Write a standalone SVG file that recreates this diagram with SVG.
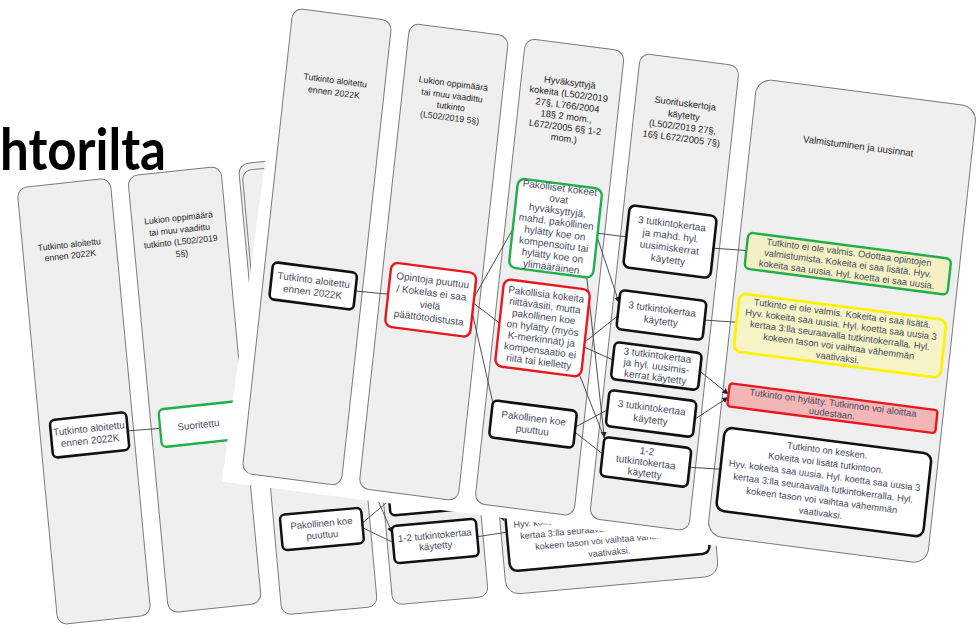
<svg xmlns="http://www.w3.org/2000/svg" width="978" height="637" viewBox="0 0 978 637">
<style>
.col{fill:#efefef;stroke:#7a7a7a;stroke-width:1}
.pan{fill:#ffffff}
.bk{fill:#ffffff;stroke:#111111;stroke-width:2.6}
.gr{fill:#ffffff;stroke:#1fae4b;stroke-width:2.4}
.rd{fill:#ffffff;stroke:#e8161d;stroke-width:2.4}
.gy{fill:#f4f0c4;stroke:#1fae4b;stroke-width:2.4}
.yl{fill:#f6f3c6;stroke:#fff200;stroke-width:2.8}
.pk{fill:#f2b6b6;stroke:#e8161d;stroke-width:2.4}
.cn{fill:none;stroke:#444444;stroke-width:0.9}
.hd{font-family:"Liberation Sans",Arial,sans-serif;fill:#1e1e1e;text-anchor:middle}
.nt{font-family:"Liberation Sans",Arial,sans-serif;font-size:10px;fill:#474b60;text-anchor:middle}
.st{font-family:"Liberation Sans",Arial,sans-serif;font-size:9.4px;fill:#474b60;text-anchor:middle}
.title{font-family:Lato,"DejaVu Sans",sans-serif;font-weight:700;font-size:58px;fill:#000000}
</style>
<defs>
<marker id="ah" markerUnits="userSpaceOnUse" markerWidth="7" markerHeight="7" refX="6" refY="3" orient="auto">
<path d="M0,0 L6,3 L0,6 Z" fill="#222222"/>
</marker>
</defs>
<rect width="978" height="637" fill="#ffffff"/>
<text class="title" x="0" y="170" textLength="166" lengthAdjust="spacingAndGlyphs">htorilta</text>

<!-- back slide -->
<g id="slide-back" transform="matrix(0.979,-0.105,0.093,0.993,17,188)">
  <rect class="col" x="0" y="0" width="95" height="440" rx="10"/>
  <rect class="col" x="113" y="0" width="95" height="440" rx="10"/>
  <rect class="col" x="226" y="0" width="95" height="440" rx="10"/>
  <g class="hd" font-size="8.8">
    <text x="47.5" y="65">Tutkinto aloitettu</text>
    <text x="47.5" y="76">ennen 2022K</text>
    <text x="160.5" y="50">Lukion oppimäärä</text>
    <text x="160.5" y="62">tai muu vaadittu</text>
    <text x="160.5" y="74">tutkinto (L502/2019</text>
    <text x="160.5" y="86">5§)</text>
    <text x="230" y="50" style="text-anchor:start">Hyväksyttyjä</text>
  </g>
  <g id="back-connectors">
    <path class="cn" d="M89,254 L122,255"/>
  </g>
  <g id="back-n1">
    <rect class="bk" x="11" y="235" width="78" height="38" rx="5"/>
    <text class="nt" font-size="9.5" x="50" y="251">Tutkinto aloitettu</text>
    <text class="nt" font-size="9.5" x="50" y="263">ennen 2022K</text>
  </g>
  <g id="back-n2">
    <rect class="gr" x="122" y="236" width="94" height="38" rx="5"/>
    <text class="nt" x="161" y="259">Suoritettu</text>
  </g>
</g>

<!-- middle slide -->
<g id="slide-middle" transform="matrix(0.956,-0.086,0.086,0.956,17.3,190.7)">
  <path class="pan" d="M228,240 L696,240 L696,480 L228,480 Z"/>
  <rect class="col" x="235" y="0" width="100" height="465" rx="10"/>
  <rect class="col" x="351" y="0" width="100" height="465" rx="10"/>
  <rect class="col" x="470" y="10" width="222" height="455" rx="14"/>
  <g id="mid-connectors">
    <path class="cn" d="M327,377 L357,356"/>
    <path class="cn" d="M327,382 L357,400"/>
    <path class="cn" d="M327,300 L357,390" marker-end="url(#ah)"/>
    <path class="cn" d="M445,402 L476,400"/>
    <path class="cn" d="M448,318 L474,388" marker-end="url(#ah)"/>
  </g>
  <g id="mid-E">
    <rect class="bk" x="242" y="361" width="85" height="37" rx="5"/>
    <text class="nt" x="284.5" y="377">Pakollinen koe</text>
    <text class="nt" x="284.5" y="389">puuttuu</text>
  </g>
  <g id="mid-I">
    <rect class="bk" x="357" y="336" width="88" height="36" rx="5"/>
  </g>
  <g id="mid-J">
    <rect class="bk" x="357" y="383" width="88" height="39" rx="5"/>
    <text class="nt" x="401" y="400">1-2 tutkintokertaa</text>
    <text class="nt" x="401" y="411">käytetty</text>
  </g>
  <g id="mid-N">
    <rect class="bk" x="476" y="358" width="209" height="83" rx="8"/>
    <text class="st" x="580.5" y="371">Tutkinto on kesken.</text>
    <text class="st" x="580.5" y="383.5">Kokeita  voi lisätä tutkintoon.</text>
    <text class="st" x="580.5" y="396">Hyv. kokeita saa uusia. Hyl. koetta saa uusia 3</text>
    <text class="st" x="580.5" y="408.5">kertaa 3:lla seuraavalla tutkintokerralla.  Hyl.</text>
    <text class="st" x="580.5" y="421">kokeen tason voi vaihtaa vähemmän</text>
    <text class="st" x="580.5" y="433.5">vaativaksi.</text>
  </g>
</g>

<!-- front slide -->
<g id="slide-front" transform="matrix(0.990,0.1286,-0.1097,1.0,293,8)">
  <path class="pan" d="M-6,-40 L760,-40 L760,476 L-19,476 Z"/>
  <rect class="col" x="0" y="0" width="100" height="465" rx="10"/>
  <rect class="col" x="118" y="0" width="100" height="465" rx="10"/>
  <rect class="col" x="235" y="0" width="100" height="465" rx="10"/>
  <rect class="col" x="351" y="0" width="100" height="465" rx="10"/>
  <rect class="col" x="470" y="10" width="222" height="457" rx="15"/>
  <g class="hd">
    <g font-size="8.8">
      <text x="50" y="69">Tutkinto aloitettu</text>
      <text x="50" y="81">ennen 2022K</text>
      <text x="168" y="57">Lukion oppimäärä</text>
      <text x="168" y="69">tai muu vaadittu</text>
      <text x="168" y="80">tutkinto</text>
      <text x="168" y="91">(L502/2019 5§)</text>
    </g>
    <g font-size="9.3">
      <text x="284" y="41">Hyväksyttyjä</text>
      <text x="284" y="52.5">kokeita (L502/2019</text>
      <text x="284" y="64">27§, L766/2004</text>
      <text x="284" y="75">18§ 2 mom.,</text>
      <text x="284" y="86">L672/2005 6§ 1-2</text>
      <text x="284" y="97">mom.)</text>
      <text x="401" y="47">Suorituskertoja</text>
      <text x="401" y="59">käytetty</text>
      <text x="401" y="70.5">(L502/2019 27§,</text>
      <text x="401" y="82">16§ L672/2005 7§)</text>
    </g>
    <text x="578" y="67" font-size="9.6">Valmistuminen ja uusinnat</text>
  </g>
  <g id="front-connectors">
    <path class="cn" d="M93,271 L126,270"/>
    <path class="cn" d="M212,262 L243,190"/>
    <path class="cn" d="M212,268 L240,284"/>
    <path class="cn" d="M212,278 L243,366"/>
    <path class="cn" d="M328,183 L357,183"/>
    <path class="cn" d="M328,187 L357,249" marker-end="url(#ah)"/>
    <path class="cn" d="M322,228 L357,384" marker-end="url(#ah)"/>
    <path class="cn" d="M326,326 L358,386"/>
    <path class="cn" d="M327,292 L357,262"/>
    <path class="cn" d="M327,297 L357,306"/>
    <path class="cn" d="M327,377 L357,356"/>
    <path class="cn" d="M327,382 L357,400"/>
    <path class="cn" d="M445,183 L478,181"/>
    <path class="cn" d="M444,255 L476,253"/>
    <path class="cn" d="M445,306 L476,325" marker-end="url(#ah)"/>
    <path class="cn" d="M445,354 L476,328" marker-end="url(#ah)"/>
    <path class="cn" d="M445,402 L476,400"/>
  </g>
  <g id="A">
    <rect class="bk" x="8" y="253" width="85" height="37" rx="5"/>
    <text class="nt" x="50.5" y="269">Tutkinto aloitettu</text>
    <text class="nt" x="50.5" y="281">ennen 2022K</text>
  </g>
  <g id="B">
    <rect class="rd" x="126" y="238" width="86" height="64" rx="7"/>
    <text class="nt" x="169" y="254">Opintoja puuttuu</text>
    <text class="nt" x="169" y="266.5">/ Kokelas ei saa</text>
    <text class="nt" x="169" y="279">vielä</text>
    <text class="nt" x="169" y="291.5">päättötodistusta</text>
  </g>
  <g id="C">
    <rect class="gr" x="243" y="139" width="85" height="89" rx="7"/>
    <text class="nt" x="285.5" y="146.5">Pakolliset kokeet</text>
    <text class="nt" x="285.5" y="157.8">ovat</text>
    <text class="nt" x="285.5" y="169.1">hyväksyttyjä,</text>
    <text class="nt" x="285.5" y="180.4">mahd. pakollinen</text>
    <text class="nt" x="285.5" y="191.7">hylätty koe on</text>
    <text class="nt" x="285.5" y="203">kompensoitu tai</text>
    <text class="nt" x="285.5" y="214.3">hylätty koe on</text>
    <text class="nt" x="285.5" y="225.6">ylimääräinen</text>
  </g>
  <g id="D">
    <rect class="rd" x="240" y="240" width="87" height="87" rx="7"/>
    <text class="nt" x="283.5" y="253.3">Pakollisia kokeita</text>
    <text class="nt" x="283.5" y="264.5">riittäväsiti, mutta</text>
    <text class="nt" x="283.5" y="275.7">pakollinen koe</text>
    <text class="nt" x="283.5" y="286.9">on hylätty (myös</text>
    <text class="nt" x="283.5" y="298.1">K-merkinnät) ja</text>
    <text class="nt" x="283.5" y="309.3">kompensaatio ei</text>
    <text class="nt" x="283.5" y="320.5">riitä tai kielletty</text>
  </g>
  <g id="E">
    <rect class="bk" x="242" y="361" width="85" height="37" rx="5"/>
    <text class="nt" x="284.5" y="377">Pakollinen koe</text>
    <text class="nt" x="284.5" y="389">puuttuu</text>
  </g>
  <g id="F">
    <rect class="bk" x="357" y="151" width="88" height="62" rx="6"/>
    <text class="nt" x="401" y="167.5">3 tutkintokertaa</text>
    <text class="nt" x="401" y="179.5">ja mahd. hyl.</text>
    <text class="nt" x="401" y="191.5">uusimiskerrat</text>
    <text class="nt" x="401" y="203.5">käytetty</text>
  </g>
  <g id="G">
    <rect class="bk" x="357" y="236" width="87" height="39" rx="5"/>
    <text class="nt" x="400.5" y="253">3 tutkintokertaa</text>
    <text class="nt" x="400.5" y="265">käytetty</text>
  </g>
  <g id="H">
    <rect class="bk" x="357" y="288" width="88" height="37" rx="5"/>
    <text class="nt" x="401" y="299">3 tutkintokertaa</text>
    <text class="nt" x="401" y="310">ja hyl. uusimis-</text>
    <text class="nt" x="401" y="321">kerrat käytetty</text>
  </g>
  <g id="I">
    <rect class="bk" x="357" y="336" width="88" height="36" rx="5"/>
    <text class="nt" x="401" y="351.5">3 tutkintokertaa</text>
    <text class="nt" x="401" y="363.5">käytetty</text>
  </g>
  <g id="J">
    <rect class="bk" x="357" y="383" width="88" height="39" rx="5"/>
    <text class="nt" x="401" y="395">1-2</text>
    <text class="nt" x="401" y="406">tutkintokertaa</text>
    <text class="nt" x="401" y="417">käytetty</text>
  </g>
  <g id="K">
    <rect class="gy" x="478" y="163" width="205" height="36" rx="5"/>
    <text class="st" x="580.5" y="173">Tutkinto ei ole valmis. Odottaa opintojen</text>
    <text class="st" x="580.5" y="184">valmistumista.  Kokeita ei saa lisätä. Hyv.</text>
    <text class="st" x="580.5" y="195">kokeita saa uusia. Hyl. koetta ei saa uusia.</text>
  </g>
  <g id="L">
    <rect class="yl" x="476" y="224" width="209" height="58" rx="7"/>
    <text class="st" x="580.5" y="234">Tutkinto ei ole valmis. Kokeita ei saa lisätä.</text>
    <text class="st" x="580.5" y="245">Hyv. kokeita saa uusia. Hyl. koetta saa uusia 3</text>
    <text class="st" x="580.5" y="256">kertaa 3:lla seuraavalla tutkintokerralla. Hyl.</text>
    <text class="st" x="580.5" y="267">kokeen tason voi vaihtaa vähemmän</text>
    <text class="st" x="580.5" y="278">vaativaksi.</text>
  </g>
  <g id="M">
    <rect class="pk" x="476" y="314" width="210" height="23" rx="3"/>
    <text class="st" x="581" y="323.5">Tutkinto on hylätty. Tutkinnon voi aloittaa</text>
    <text class="st" x="581" y="334">uudestaan.</text>
  </g>
  <g id="N">
    <rect class="bk" x="476" y="358" width="209" height="83" rx="8"/>
    <text class="st" x="580.5" y="371">Tutkinto on kesken.</text>
    <text class="st" x="580.5" y="383.5">Kokeita  voi lisätä tutkintoon.</text>
    <text class="st" x="580.5" y="396">Hyv. kokeita saa uusia. Hyl. koetta saa uusia 3</text>
    <text class="st" x="580.5" y="408.5">kertaa 3:lla seuraavalla tutkintokerralla.  Hyl.</text>
    <text class="st" x="580.5" y="421">kokeen tason voi vaihtaa vähemmän</text>
    <text class="st" x="580.5" y="433.5">vaativaksi.</text>
  </g>
</g>
</svg>
